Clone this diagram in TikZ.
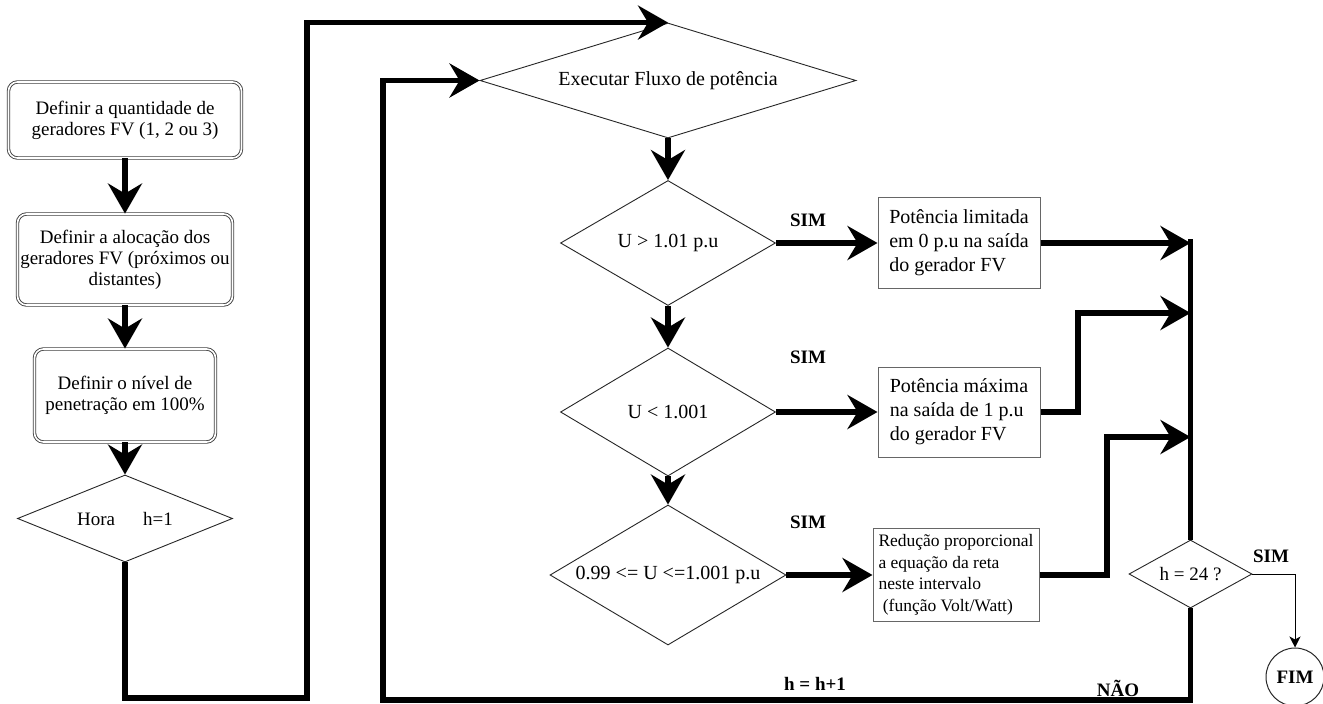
\documentclass[tikz,border=0pt]{standalone}
\usepackage{fontspec}
\setmainfont{Liberation Serif}
\usetikzlibrary{arrows.meta,shapes.geometric}

\tikzset{
  startbox/.style={rectangle, draw=black!75, line width=0.9pt, double=white,
    double distance=1.6pt, rounded corners=9pt, align=center, inner sep=1pt,
    font=\fontsize{19}{21}\selectfont},
  decision/.style={diamond, draw=black!85, line width=0.9pt, inner sep=0pt,
    fill=white},
  dtext/.style={font=\fontsize{20}{24}\selectfont},
  actbox/.style={rectangle, draw=black!60, line width=1pt, align=left,
    inner sep=4pt, font=\fontsize{20}{24}\selectfont},
  smallbox/.style={actbox, inner sep=2pt, font=\fontsize{17.5}{21.5}\selectfont},
  flow/.style={line width=5.5pt, -{Stealth[length=30pt,width=34pt,inset=10pt]}},
  plain/.style={line width=5.5pt},
  thinflow/.style={line width=1pt, -{Stealth[length=11pt,width=11pt,inset=3pt]}},
  lbl/.style={font=\fontsize{19}{21}\selectfont\bfseries},
  endnode/.style={circle, draw=black!85, line width=1pt, minimum size=58pt,
    inner sep=0pt, font=\fontsize{19}{21}\selectfont\bfseries},
}

\begin{document}
\begin{tikzpicture}[x=1pt, y=-1pt]
\fill[white] (0,0) rectangle (1323,704);
\useasboundingbox (0,0) rectangle (1323,704);

% left column: set-up steps
\node[startbox, minimum width=233pt, minimum height=76pt] (b1) at (125,120)
  {Definir a quantidade de\\geradores FV (1, 2 ou 3)};
\node[startbox, minimum width=215pt, minimum height=91pt] (b2) at (125,259.5)
  {Definir a aloca\c{c}\~ao dos\\geradores FV (pr\'oximos ou\\distantes)};
\node[startbox, minimum width=181pt, minimum height=93pt] (b3) at (125,395.5)
  {Definir o n\'ivel de\\penetra\c{c}\~ao em 100\%};
\node[decision, minimum width=215pt, minimum height=87pt,
  label={[dtext, font=\fontsize{19}{21}\selectfont]center:Hora\hspace{28pt}h=1}] (hora) at (125,518.5) {};

% power-flow loop
\node[decision, minimum width=376pt, minimum height=115pt,
  label={[dtext]center:Executar Fluxo de pot\^encia}] (fluxo) at (668,80.5) {};
\node[decision, minimum width=215pt, minimum height=125pt,
  label={[dtext]center:U > 1.01 p.u}] (d1) at (668,243) {};
\node[decision, minimum width=215pt, minimum height=128pt,
  label={[dtext]center:U < 1.001}] (d2) at (668,412) {};
\node[decision, minimum width=236pt, minimum height=140pt,
  label={[dtext]center:0.99 <= U <=1.001 p.u}] (d3) at (668,575) {};

% actions
\node[actbox, minimum width=162pt, minimum height=91pt] (r1) at (959,243)
  {Pot\^encia limitada\\em 0 p.u na sa\'ida\\do gerador FV};
\node[actbox, minimum width=162pt, minimum height=90pt] (r2) at (959,412)
  {Pot\^encia m\'axima\\na sa\'ida de 1 p.u\\do gerador FV};
\node[smallbox, minimum width=166pt, minimum height=93pt] (r3) at (956,575)
  {Redu\c{c}\~ao proporcional\\a equa\c{c}\~ao da reta\\neste intervalo\\\ (fun\c{c}\~ao Volt/Watt)};

% hour check and end
\node[decision, minimum width=123pt, minimum height=68pt,
  label={[dtext, font=\fontsize{19}{21}\selectfont]center:h = 24 ?}] (h24) at (1190.5,574) {};
\node[endnode] (fim) at (1295,677) {FIM};

% junction points
\coordinate (mtop) at (1190.5,239);
\coordinate (m1) at (1190.5,243);
\coordinate (m2) at (1190.5,313);
\coordinate (m3) at (1190.5,437);
\coordinate (k2) at (1078,313);
\coordinate (k3) at (1107,437);
\coordinate (ca) at (307,698);
\coordinate (cb) at (383,700);

% connectors
\draw[flow] (b1.south) -- (b2.north);
\draw[flow] (b2.south) -- (b3.north);
\draw[flow] (b3.south) -- (hora.north);
\draw[flow] (hora.south) |- (ca) |- (fluxo.north);
\draw[flow] (fluxo.south) -- (d1.north);
\draw[flow] (d1.south) -- (d2.north);
\draw[flow] (d2.south) -- (d3.north);
\draw[flow] (d1.east) -- (r1.west);
\draw[flow] (d2.east) -- (r2.west);
\draw[flow] (d3.east) -- (r3.west);
\draw[flow] (r1.east) -- (m1);
\draw[flow] (r2.east) -| (k2) -- (m2);
\draw[flow] (r3.east) -| (k3) -- (m3);
\draw[plain] (mtop) -- (h24.north);
\draw[thinflow] (h24.east) -| (fim.north);
\draw[flow] (h24.south) |- (cb) |- (fluxo.west);

% branch labels
\node[lbl] (s1) at (808,220) {SIM};
\node[lbl] (s2) at (808,357) {SIM};
\node[lbl] (s3) at (808,522) {SIM};
\node[lbl] (s4) at (1271,556) {SIM};
\node[lbl] (nao) at (1118,688) {N\~AO};
\node[lbl] (inc) at (815,684) {h = h+1};
\end{tikzpicture}
\end{document}
